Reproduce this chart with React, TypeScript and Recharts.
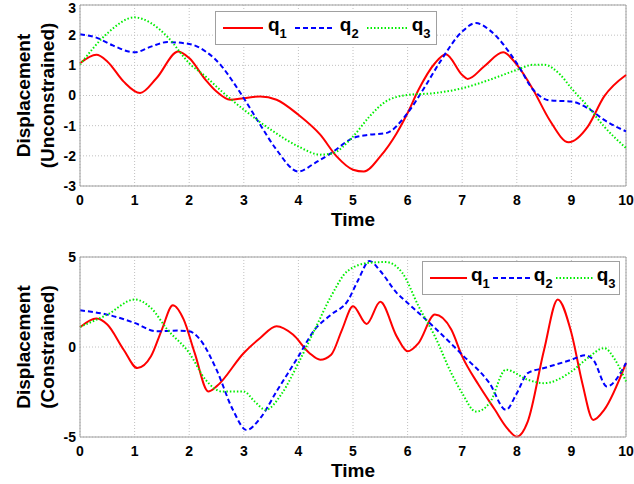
import { CartesianGrid, Line, LineChart, ReferenceLine, XAxis, YAxis } from "recharts";

// time ticks shared by both panels
const timeTicks = [0, 1, 2, 3, 4, 5, 6, 7, 8, 9, 10];
const topTicks = [-3, -2, -1, 0, 1, 2, 3];
const bottomTicks = [-5, 0, 5];

// upper panel (unconstrained)
const topQ1T = [0, 0.3, 0.5, 0.8, 1.1, 1.4, 1.8, 2.0, 2.3, 2.5, 2.75, 3.0, 3.3, 3.6, 4.0, 4.4, 4.7, 5.0, 5.2, 5.5, 5.8, 6.0, 6.2, 6.5, 6.7, 7.0, 7.1, 7.4, 7.75, 8.0, 8.3, 8.6, 8.95, 9.3, 9.6, 10];
const topQ1V = [1.07, 1.35, 1.13, 0.46, 0.08, 0.57, 1.46, 1.24, 0.52, 0.13, -0.14, -0.09, -0.03, -0.14, -0.64, -1.3, -2.02, -2.46, -2.52, -2.02, -1.25, -0.58, 0.19, 1.07, 1.37, 0.68, 0.55, 0.96, 1.43, 1.02, 0.19, -0.81, -1.55, -1.03, -0.03, 0.68];

const topQ2T = [0, 0.3, 0.6, 1.0, 1.3, 1.6, 2.0, 2.3, 2.6, 2.8, 3.0, 3.3, 3.6, 4.0, 4.3, 4.6, 5.0, 5.3, 5.6, 6.0, 6.3, 6.6, 7.0, 7.25, 7.5, 8.0, 8.3, 8.6, 9.0, 9.3, 9.6, 10];
const topQ2V = [2.03, 1.92, 1.66, 1.43, 1.62, 1.77, 1.71, 1.46, 0.96, 0.46, -0.09, -0.97, -1.8, -2.52, -2.24, -1.91, -1.41, -1.3, -1.25, -0.58, 0.24, 1.13, 2.12, 2.4, 2.17, 1.07, 0.19, -0.16, -0.2, -0.42, -0.81, -1.19];

const topQ3T = [0, 0.5, 1.0, 1.3, 1.6, 2.0, 2.3, 2.6, 3.0, 3.5, 4.0, 4.4, 4.6, 5.0, 5.3, 5.6, 6.0, 6.5, 7.0, 7.5, 8.0, 8.3, 8.5, 8.8, 9.0, 9.3, 9.6, 10];
const topQ3V = [1.02, 2.06, 2.59, 2.4, 1.95, 1.07, 0.63, 0.13, -0.47, -1.14, -1.69, -1.96, -1.93, -1.36, -0.7, -0.2, 0.02, 0.08, 0.24, 0.52, 0.85, 1.02, 1.02, 0.68, 0.24, -0.36, -1.03, -1.74];

// lower panel (constrained)
const botQ1T = [0, 0.3, 0.5, 0.8, 1.05, 1.3, 1.5, 1.7, 1.9, 2.1, 2.35, 2.5, 3.0, 3.3, 3.6, 3.9, 4.2, 4.4, 4.6, 4.8, 5.0, 5.25, 5.5, 5.8, 6.0, 6.2, 6.5, 6.8, 7.0, 7.3, 7.6, 7.8, 8.0, 8.2, 8.5, 8.75, 9.0, 9.2, 9.4, 9.6, 10];
const botQ1V = [1.1, 1.58, 1.25, -0.15, -1.17, -0.52, 0.97, 2.32, 1.52, -0.33, -2.47, -2.19, -0.33, 0.5, 1.15, 0.69, -0.33, -0.71, -0.43, 0.97, 2.27, 1.28, 2.51, 0.59, -0.24, 0.22, 1.8, 0.97, -0.52, -2.1, -3.49, -4.42, -4.98, -4.14, -0.15, 2.64, 0.78, -2.01, -4.05, -3.49, -0.89];

const botQ2T = [0, 0.5, 1.0, 1.4, 1.8, 2.0, 2.2, 2.5, 2.8, 3.05, 3.3, 3.6, 4.0, 4.3, 4.6, 4.9, 5.1, 5.3, 5.5, 5.8, 6.0, 6.5, 7.0, 7.5, 7.8, 8.0, 8.2, 8.5, 9.0, 9.25, 9.4, 9.65, 10];
const botQ2V = [2.04, 1.8, 1.34, 0.87, 0.91, 0.87, 0.41, -1.26, -3.49, -4.61, -3.96, -2.47, -0.52, 0.97, 1.8, 2.55, 3.75, 4.78, 4.22, 3.01, 2.45, 1.06, -0.43, -2.01, -3.49, -2.57, -1.45, -1.17, -0.71, -0.46, -0.71, -2.19, -0.89];

const botQ3T = [0, 0.5, 1.0, 1.3, 1.6, 2.0, 2.3, 2.6, 3.0, 3.2, 3.4, 3.7, 4.0, 4.3, 4.6, 4.9, 5.3, 5.6, 5.9, 6.2, 6.5, 6.8, 7.0, 7.25, 7.5, 7.8, 8.2, 8.5, 9.0, 9.3, 9.6, 9.8, 10];
const botQ3V = [1.12, 1.8, 2.64, 2.17, 0.97, -0.33, -1.82, -2.47, -2.47, -3.03, -3.49, -2.57, -0.89, 0.97, 2.83, 4.22, 4.68, 4.72, 4.13, 2.27, 0.59, -1.45, -2.57, -3.59, -3.12, -1.26, -1.82, -2.01, -1.36, -0.61, -0.06, -0.71, -1.91];

const FONT = "'Liberation Sans', Arial, sans-serif";
const AXIS = "#a0a0a0";

const series = [
  { name: "1", color: "#ff0000", dash: undefined as string | undefined, width: 2 },
  { name: "2", color: "#0000ff", dash: "5 3", width: 2 },
  { name: "3", color: "#00ee00", dash: "1.5 2", width: 2 }
];

const zip = (t: number[], v: number[]) => t.map((x, i) => ({ t: x, v: v[i] }));

function YLabel({ viewBox, line2 }: { viewBox?: any; line2: string }) {
  const cy = viewBox ? viewBox.y + viewBox.height / 2 : 0;
  const rows = [
    { x: 23, text: "Displacement" },
    { x: 47, text: line2 }
  ];
  return (
    <g>
      {rows.map((r) => (
        <text
          key={r.text}
          x={r.x}
          y={cy}
          transform={`rotate(-90, ${r.x}, ${cy})`}
          textAnchor="middle"
          dominantBaseline="central"
          fontFamily={FONT}
          fontWeight="bold"
          fontSize={19}
          fill="#000"
        >
          {r.text}
        </text>
      ))}
    </g>
  );
}

function LegendBox({
  left,
  top,
  width,
  sample,
  gapText,
  gapAfter
}: {
  left: number;
  top: number;
  width: number;
  sample: number;
  gapText: number;
  gapAfter: number;
}) {
  return (
    <div
      style={{
        position: "absolute",
        left,
        top,
        width,
        height: 34,
        boxSizing: "border-box",
        border: `1px solid ${AXIS}`,
        background: "#fff",
        display: "flex",
        alignItems: "center",
        paddingLeft: 7,
        fontFamily: FONT,
        fontWeight: "bold"
      }}
    >
      {series.map((s) => (
        <div key={s.name} style={{ display: "flex", alignItems: "center", marginRight: gapAfter }}>
          <svg width={sample} height={10} style={{ marginRight: gapText }}>
            <line
              x1={0}
              y1={5}
              x2={sample}
              y2={5}
              stroke={s.color}
              strokeWidth={s.width}
              strokeDasharray={s.dash}
            />
          </svg>
          <span style={{ fontSize: 19, lineHeight: "19px", position: "relative", top: -3 }}>
            q<sub style={{ fontSize: 13, verticalAlign: "baseline", position: "relative", top: 7 }}>{s.name}</sub>
          </span>
        </div>
      ))}
    </div>
  );
}

function Panel({
  data,
  ticks,
  domain,
  height,
  marginTop,
  xHeight,
  timeOffset,
  line2
}: {
  data: { t: number; v: number }[][];
  ticks: number[];
  domain: [number, number];
  height: number;
  marginTop: number;
  xHeight: number;
  timeOffset: number;
  line2: string;
}) {
  const tickStyle = { fontFamily: FONT, fontWeight: "bold", fontSize: 14, fill: "#000" };
  return (
    <LineChart width={634} height={height} margin={{ top: marginTop, right: 8, left: 0, bottom: 0 }}>
      <CartesianGrid stroke="#c0c0c0" strokeDasharray="1 2" horizontalValues={ticks} verticalValues={timeTicks} />
      <XAxis
        dataKey="t"
        type="number"
        domain={[0, 10]}
        ticks={timeTicks}
        allowDuplicatedCategory={false}
        height={xHeight}
        stroke={AXIS}
        tickLine={false}
        tickSize={4}
        tickMargin={5}
        tick={tickStyle}
        label={{
          value: "Time",
          position: "insideBottom",
          offset: timeOffset,
          style: { fontFamily: FONT, fontWeight: "bold", fontSize: 19, fill: "#000" }
        }}
      />
      <YAxis
        dataKey="v"
        type="number"
        domain={domain}
        ticks={ticks}
        width={80}
        stroke={AXIS}
        tickLine={false}
        tickSize={2}
        tickMargin={2}
        tick={tickStyle}
        label={<YLabel line2={line2} />}
      />
      <ReferenceLine y={domain[1]} stroke={AXIS} />
      <ReferenceLine x={10} stroke={AXIS} />
      {series.map((s, i) => (
        <Line
          key={s.name}
          data={data[i]}
          dataKey="v"
          type="monotone"
          stroke={s.color}
          strokeWidth={s.width}
          strokeDasharray={s.dash}
          dot={false}
          activeDot={false}
          isAnimationActive={false}
        />
      ))}
    </LineChart>
  );
}

export default function App() {
  const top = [zip(topQ1T, topQ1V), zip(topQ2T, topQ2V), zip(topQ3T, topQ3V)];
  const bottom = [zip(botQ1T, botQ1V), zip(botQ2T, botQ2V), zip(botQ3T, botQ3V)];
  return (
    <div style={{ position: "absolute", left: 0, top: 0, width: 634, height: 484, background: "#fff" }}>
      <div style={{ position: "absolute", left: 0, top: 0 }}>
        <Panel
          data={top}
          ticks={topTicks}
          domain={[-3, 3]}
          height={240}
          marginTop={5}
          xHeight={54}
          timeOffset={14}
          line2="(Unconstrained)"
        />
      </div>
      <div style={{ position: "absolute", left: 0, top: 240 }}>
        <Panel
          data={bottom}
          ticks={bottomTicks}
          domain={[-5, 5]}
          height={244}
          marginTop={17}
          xHeight={47}
          timeOffset={7}
          line2="(Constrained)"
        />
      </div>
      <LegendBox left={215} top={11} width={222} sample={40} gapText={5} gapAfter={8} />
      <LegendBox left={422} top={261} width={198} sample={37} gapText={4} gapAfter={3} />
    </div>
  );
}
